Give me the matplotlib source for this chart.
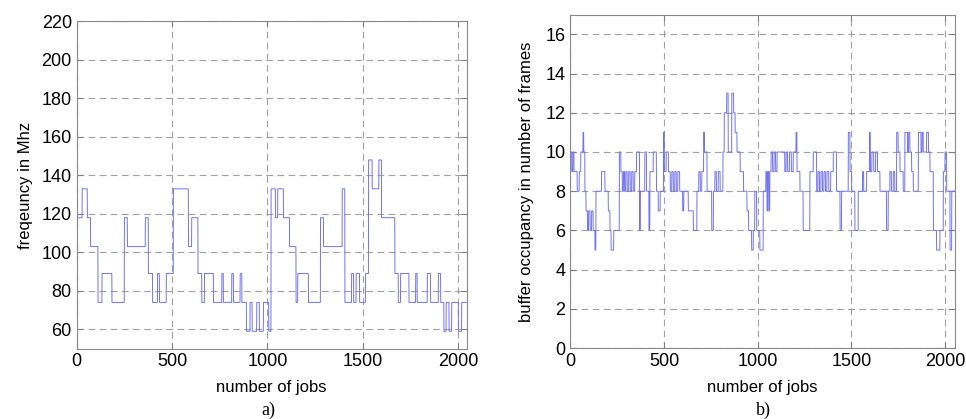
import numpy as np
import matplotlib
matplotlib.use("Agg")
import matplotlib.pyplot as plt

# left panel: frequency per job, as (start job, level in MHz) steps
freq_starts = [0, 29, 56, 73, 112, 133, 185, 250, 266, 360, 376, 398, 424, 434, 470,
               507, 586, 603, 636, 656, 670, 717, 761, 769, 813, 822, 857, 866, 890,
               909, 920, 944, 958, 979, 1007, 1019, 1042, 1054, 1084, 1116, 1150, 1159,
               1215, 1278, 1294, 1392, 1406, 1441, 1452, 1465, 1483, 1514, 1530, 1549,
               1584, 1598, 1668, 1686, 1698, 1742, 1777, 1785, 1838, 1855, 1896, 1908,
               1925, 1937, 1952, 1966, 2001, 2018]
freq_levels = [118, 133, 118, 103, 74, 89, 74, 118, 103, 118, 89, 74, 89, 74, 89,
               133, 103, 118, 89, 74, 89, 74, 89, 74, 89, 74, 89, 74, 59,
               74, 59, 74, 59, 74, 59, 133, 118, 133, 118, 103, 74, 89,
               74, 118, 103, 133, 74, 89, 74, 89, 74, 89, 148, 133,
               148, 118, 89, 74, 89, 74, 89, 74, 89, 74, 89, 74,
               59, 74, 59, 74, 59, 74]
freq_jobs = 2044

# right panel: buffer occupancy per job, as (start job, frames) steps
buf_starts = [0, 8, 14, 20, 37, 48, 56, 68, 72, 78, 84, 92, 98, 106, 114, 122, 132, 137,
              167, 185, 203, 212, 218, 232, 262, 270, 278, 284, 290, 296, 304, 312, 320,
              328, 336, 344, 354, 370, 374, 398, 407, 420, 425, 443, 460, 470, 480, 498,
              502, 512, 524, 534, 542, 550, 558, 566, 574, 584, 600, 606, 630, 657, 676,
              686, 694, 702, 712, 716, 730, 755, 764, 772, 780, 790, 800, 815, 822, 835,
              843, 862, 872, 880, 890, 907, 925, 943, 952, 968, 977, 985, 995, 1012,
              1030, 1044, 1050, 1054, 1060, 1065, 1072, 1080, 1088, 1096, 1104, 1145,
              1152, 1160, 1170, 1180, 1190, 1205, 1210, 1226, 1243, 1279, 1297, 1315,
              1322, 1330, 1338, 1346, 1354, 1362, 1370, 1380, 1390, 1404, 1421, 1440,
              1448, 1484, 1493, 1502, 1519, 1537, 1560, 1566, 1582, 1597, 1602, 1610,
              1620, 1630, 1640, 1653, 1688, 1697, 1706, 1714, 1724, 1732, 1742, 1750,
              1760, 1777, 1786, 1800, 1806, 1813, 1822, 1831, 1858, 1872, 1878, 1884,
              1902, 1912, 1920, 1938, 1955, 1973, 1991, 2000, 2009, 2027, 2036]
buf_levels = [10, 9, 10, 9, 8, 9, 10, 11, 10, 8, 7, 6, 7, 6, 7, 6, 5, 8,
              9, 8, 7, 6, 5, 6, 10, 9, 8, 9, 8, 9, 8, 9, 8,
              9, 8, 9, 10, 6, 8, 10, 8, 6, 9, 10, 8, 7, 8, 11,
              9, 10, 9, 8, 9, 8, 9, 8, 9, 8, 7, 8, 7, 6, 8,
              9, 8, 9, 11, 10, 8, 6, 8, 9, 8, 9, 8, 10, 12, 13,
              10, 13, 12, 11, 10, 9, 8, 7, 6, 5, 6, 8, 6, 5,
              8, 9, 7, 9, 7, 9, 10, 9, 10, 9, 10, 9,
              10, 9, 10, 9, 10, 11, 9, 8, 6, 9, 10, 8,
              9, 8, 9, 8, 9, 8, 9, 8, 9, 10, 8, 6,
              8, 11, 9, 8, 6, 8, 9, 8, 9, 11, 9, 10,
              9, 10, 9, 8, 6, 8, 9, 8, 9, 8, 11, 10,
              9, 8, 11, 10, 11, 10, 9, 8, 11, 10, 11, 10,
              11, 10, 9, 6, 5, 6, 9, 10, 8, 5, 8]
buf_jobs = 2052


def expand(starts, levels, n):
    # turn the step list into one value per job
    bounds = list(starts) + [n]
    lengths = np.diff(bounds)
    return np.repeat(levels, lengths)


freq = expand(freq_starts, freq_levels, freq_jobs)
buf = expand(buf_starts, buf_levels, buf_jobs)

plt.rcParams['font.family'] = ['Liberation Sans', 'DejaVu Sans']

fig = plt.figure(figsize=(9.66, 4.19), dpi=100)
ax1 = fig.add_axes([0.0794, 0.168, 0.4037, 0.781])
ax2 = fig.add_axes([0.5904, 0.169, 0.398, 0.796])

line_color = '#7272ee'

ax1.plot(np.arange(freq_jobs), freq, color=line_color, lw=0.7)
ax1.set_xlim(0, freq_jobs)
ax1.set_ylim(50, 220)
ax1.set_xticks([0, 500, 1000, 1500, 2000])
ax1.set_yticks(np.arange(60, 221, 20))
ax1.set_xlabel('number of jobs', fontsize=12, labelpad=7)
ax1.set_ylabel('freqeuncy in Mhz', fontsize=12, labelpad=6)

ax2.plot(np.arange(buf_jobs), buf, color=line_color, lw=0.7)
ax2.set_xlim(0, buf_jobs)
ax2.set_ylim(0, 17)
ax2.set_xticks([0, 500, 1000, 1500, 2000])
ax2.set_yticks(np.arange(0, 17, 2))
ax2.set_xlabel('number of jobs', fontsize=12, labelpad=7)
ax2.set_ylabel('buffer occupancy in number of frames', fontsize=12, labelpad=8)

for ax in (ax1, ax2):
    ax.grid(True, linestyle=(0, (6, 4)), color='#a0a0a0', lw=0.8)
    ax.tick_params(direction='in', labelsize=13, length=4, color='#808080',
                   top=True, right=True)
    for s in ax.spines.values():
        s.set_color('#888888')
        s.set_linewidth(0.8)

fig.text(0.278, 0.021, 'a)', family='Liberation Serif', fontsize=13,
         ha='center', va='center')
fig.text(0.79, 0.021, 'b)', family='Liberation Serif', fontsize=13,
         ha='center', va='center')

fig.savefig('out.png', dpi=100)
